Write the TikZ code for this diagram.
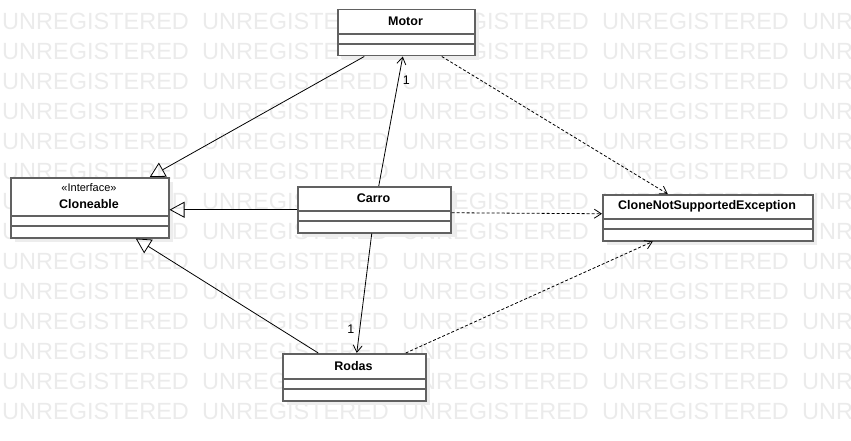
\documentclass[tikz,border=0pt]{standalone}
\usepackage{fontspec}
\setmainfont{Liberation Sans}
\usetikzlibrary{arrows.meta, shadows}

\tikzset{
    watermark/.style={text=black!8, font=\fontsize{23.5}{28}\selectfont, inner sep=0pt, anchor=base west},
    classbox/.style={draw=black!62, line width=1.5pt, fill=white, inner sep=0pt, anchor=north west,
        drop shadow={shadow xshift=4pt, shadow yshift=-4pt, fill=black!7, opacity=1}},
    classname/.style={font=\bfseries\fontsize{12.5}{15}\selectfont, inner sep=0pt, align=center},
    boxline/.style={draw=black!62, line width=1.5pt},
    generalization/.style={-{Triangle[open, length=15pt, width=16pt]}, line width=0.8pt},
    association/.style={-{Straight Barb[length=7pt, width=9pt]}, line width=0.8pt},
    dependency/.style={-{Straight Barb[length=7pt, width=9pt]}, line width=0.8pt, dash pattern=on 3pt off 2pt},
    multiplicity/.style={font=\fontsize{12.5}{15}\selectfont, inner sep=1pt}
}

% id, left, top, width, name height, label
\newcommand{\umlclass}[6]{
    \node[classbox, minimum width=#4, minimum height=#5+21] (#1) at (#2,#3) {};
    \node[classname] (#1-name) at (#2+#4/2, #3+#5/2) {#6};
    \draw[boxline] (#2, #3+#5) -- ++(#4,0);
    \draw[boxline] (#2, #3+#5+10) -- ++(#4,0);
}

\begin{document}
\begin{tikzpicture}[x=1pt, y=-1pt]
    \useasboundingbox (0,0) rectangle (851,441);

    \begin{scope}
        \clip (0,0) rectangle (851,441);
        \foreach \r in {0,...,13}
            \foreach \c in {0,...,4}
                \node[watermark] (wm-\r-\c) at (2+200*\c, 29.5+30*\r) {UNREGISTERED};
    \end{scope}

    \umlclass{motor}{337}{9}{137}{25}{Motor}
    \umlclass{cloneable}{10}{177}{158}{39}{}
    \node[font=\fontsize{11}{13}\selectfont, inner sep=0pt] (stereo) at (89,188) {«Interface»};
    \node[classname] (cloneable-title) at (89,204) {Cloneable};
    \umlclass{carro}{297}{186}{153}{25}{Carro}
    \umlclass{cnse}{602}{194}{210}{25}{CloneNotSupportedException}
    \umlclass{rodas}{282}{353}{143}{26}{Rodas}

    \draw[generalization] ([xshift=-42pt]motor.south) -- ([xshift=60pt]cloneable.north);
    \draw[generalization] (carro.west) -- (carro.west -| cloneable.east);
    \draw[generalization] ([xshift=-36pt]rodas.north) -- ([xshift=46pt]cloneable.south);

    \draw[association] ([xshift=4.5pt]carro.north) -- node[multiplicity, pos=0.82, right=3pt] (one-motor) {1} ([xshift=-3.5pt]motor.south);
    \draw[association] ([xshift=-2.5pt]carro.south) -- node[multiplicity, pos=0.8, left=4pt] (one-rodas) {1} ([xshift=2.5pt]rodas.north);

    \draw[dependency] ([xshift=35.5pt]motor.south) -- ([xshift=-40pt]cnse.north);
    \draw[dependency] ([yshift=-3pt]carro.east) -- ([yshift=4pt]cnse.west);
    \draw[dependency] ([xshift=51.5pt]rodas.north) -- ([xshift=-55pt]cnse.south);
\end{tikzpicture}
\end{document}
